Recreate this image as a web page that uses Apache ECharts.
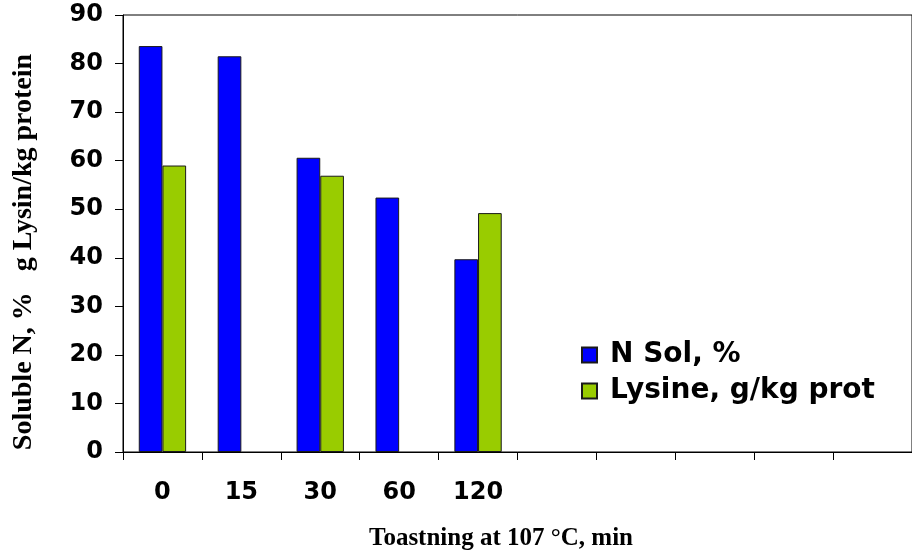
<!DOCTYPE html>
<html>
<head>
<meta charset="utf-8">
<script src="https://cdn.jsdelivr.net/npm/echarts@6/dist/echarts.min.js"></script>
<style>
  html, body { margin: 0; padding: 0; background: #fff; }
  #chart { width: 912px; height: 556px; }
</style>
</head>
<body>
<div id="chart"></div>
<script>
// Toasting time categories (min); the trailing blanks keep the axis running on
const categories = ['0', '15', '30', '60', '120', '', '', '', '', ''];
// Soluble nitrogen, %
const nSol = [83.6, 81.5, 60.6, 52.4, 39.7];
// Lysine, g/kg protein (not measured at 15 and 60 min)
const lysine = [59.0, null, 56.9, null, 49.2];
const yTicks = { min: 0, max: 90, step: 10 };

const chart = echarts.init(document.getElementById('chart'), null, { renderer: 'canvas' });

const sansBold = { fontFamily: 'DejaVu Sans', fontWeight: 'bold', color: '#000' };
const serifBold = { fontFamily: 'Liberation Serif', fontWeight: 'bold', color: '#000' };

chart.setOption({
  animation: false,
  backgroundColor: '#fff',
  grid: {
    left: 123, top: 15, width: 800, bottom: 104,
    show: true, borderColor: '#000', borderWidth: 1, backgroundColor: 'transparent'
  },
  legend: {
    orient: 'vertical',
    left: 576, top: 336,
    itemWidth: 15, itemHeight: 15, itemGap: 8,
    icon: 'rect',
    textStyle: Object.assign({ fontSize: 28, lineHeight: 20, padding: [0, 0, 0, 8] }, sansBold),
    data: ['N Sol, %', 'Lysine, g/kg prot']
  },
  xAxis: {
    type: 'category',
    data: categories,
    axisLine: { lineStyle: { color: '#000', width: 1 } },
    axisTick: { show: true, length: 8, lineStyle: { color: '#000' } },
    axisLabel: Object.assign({ fontSize: 24, margin: 29 }, sansBold),
    splitLine: { show: false }
  },
  yAxis: {
    type: 'value',
    min: yTicks.min, max: yTicks.max, interval: yTicks.step,
    axisLine: { show: true, lineStyle: { color: '#000', width: 1 } },
    axisTick: { show: true, length: 8, lineStyle: { color: '#000' } },
    axisLabel: Object.assign({ fontSize: 24, margin: 20 }, sansBold),
    splitLine: { show: false }
  },
  series: [
    {
      name: 'N Sol, %', type: 'bar', data: nSol,
      barGap: '0%', barCategoryGap: '40%',
      itemStyle: { color: '#0000FF', borderColor: '#1a1a1a', borderWidth: 1 }
    },
    {
      name: 'Lysine, g/kg prot', type: 'bar', data: lysine,
      barGap: '0%', barCategoryGap: '40%',
      itemStyle: { color: '#99CC00', borderColor: '#1a1a1a', borderWidth: 1 }
    }
  ],
  graphic: [
    {
      type: 'text', x: 24, y: 252, rotation: Math.PI / 2,
      style: Object.assign({
        text: 'Soluble N, %   g Lysin/kg protein',
        fontSize: 28, align: 'center', verticalAlign: 'middle', fill: '#000'
      }, serifBold)
    },
    {
      type: 'text', x: 501, y: 539,
      style: Object.assign({
        text: 'Toastning at 107 °C, min',
        fontSize: 25, align: 'center', verticalAlign: 'middle', fill: '#000'
      }, serifBold)
    }
  ]
});
</script>
</body>
</html>
